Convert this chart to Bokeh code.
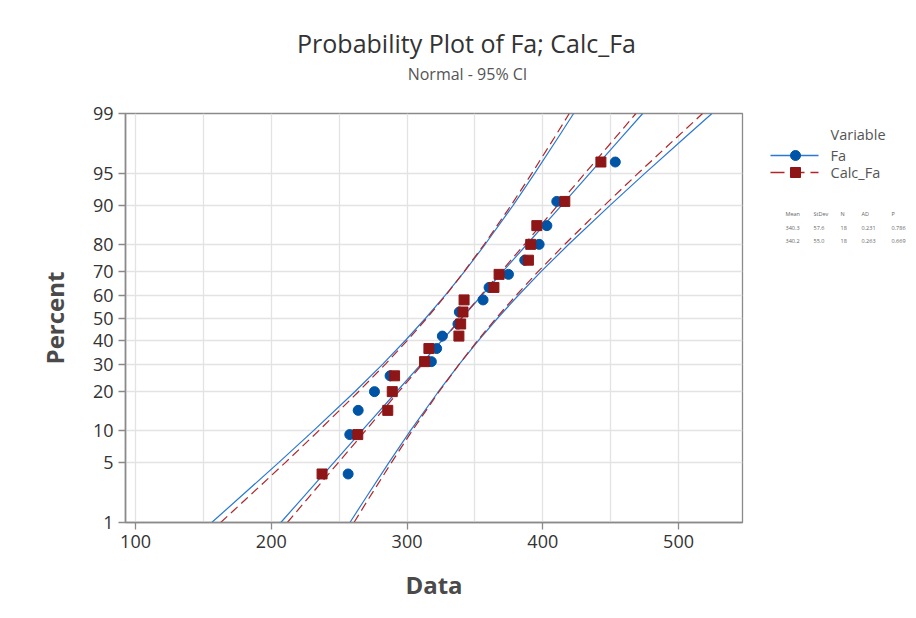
from statistics import NormalDist
from bokeh.plotting import figure
from bokeh.layouts import row, column
from bokeh.models import Range1d, FixedTicker
from bokeh.core.properties import value
from bokeh.embed import file_html
from bokeh.resources import INLINE

FONT = "Open Sans"

# ---------------- data ----------------
percent_ticks = [1, 5, 10, 20, 30, 40, 50, 60, 70, 80, 90, 95, 99]
x_ticks = [100, 200, 300, 400, 500]
x_minor = [150, 250, 350, 450]

point_pct = [3.80, 9.24, 14.67, 20.11, 25.54, 30.98, 36.41, 41.85, 47.28,
             52.72, 58.15, 63.59, 69.02, 74.46, 79.89, 85.33, 90.76, 96.20]
fa = [256.6, 257.8, 264.0, 276.0, 287.5, 317.9, 321.8, 326.0, 337.5,
      338.5, 356.0, 360.4, 374.7, 386.7, 397.3, 403.0, 410.3, 453.4]
calc_fa = [237.4, 263.7, 285.8, 289.1, 290.8, 312.9, 316.1, 338.2, 339.5,
           341.2, 342.0, 364.0, 367.8, 389.4, 391.1, 395.6, 416.2, 442.8]

curve_pct = [1, 2, 5, 10, 20, 30, 40, 50, 60, 70, 80, 90, 95, 98, 99]
fa_fit = [207.0, 222.6, 246.0, 266.8, 292.1, 310.3, 325.8, 340.3, 354.8,
          370.3, 388.5, 413.8, 434.6, 458.0, 473.6]
fa_ci_left = [156.1, 175.9, 205.4, 231.1, 261.3, 282.1, 298.9, 313.8, 327.9,
              342.1, 357.7, 378.1, 394.0, 411.3, 422.7]
fa_ci_right = [257.9, 269.3, 286.6, 302.5, 322.9, 338.5, 352.7, 366.8, 381.7,
               398.5, 419.3, 449.5, 475.2, 504.7, 524.6]
calc_fit = [211.8, 226.8, 249.4, 269.4, 293.7, 311.3, 326.2, 340.2, 354.2,
            369.1, 386.7, 411.0, 431.0, 453.6, 468.6]
calc_ci_left = [162.7, 181.8, 210.3, 235.0, 264.0, 284.1, 300.3, 314.7, 328.3,
                341.9, 357.0, 376.6, 391.9, 408.6, 419.5]
calc_ci_right = [260.9, 271.8, 288.5, 303.8, 323.4, 338.5, 352.1, 365.7, 380.1,
                 396.3, 416.4, 445.4, 470.1, 498.6, 517.7]

series_names = ["Fa", "Calc_Fa"]
table_header = ["Mean", "StDev", "N", "AD", "P"]
fa_stats = ["340.3", "57.6", "18", "0.231", "0.786"]
calc_stats = ["340.2", "55.0", "18", "0.263", "0.669"]

BLUE_PT = "#0054A6"
BLUE_LN = "#2B78D2"
RED_PT = "#8E1616"
RED_LN = "#B0262A"
GRID = "#E3E3E3"
AXIS = "#8A8A8A"

nd = NormalDist()


def z(p):
    return nd.inv_cdf(p / 100.0)


# layout geometry (page pixels)
FL, FR, FT, FB = 125, 742, 113, 522
TOP_H = 90
W, H = 916, 618
MAIN_W = 758

# ---------------- title strip ----------------
tfig = figure(width=MAIN_W, height=TOP_H, output_backend="svg", toolbar_location=None,
              x_range=Range1d(FL, FR), y_range=Range1d(TOP_H, 0),
              x_axis_type=None, y_axis_type=None,
              min_border_left=FL, min_border_right=MAIN_W - FR,
              min_border_top=0, min_border_bottom=0)
tfig.grid.visible = False
tfig.outline_line_color = None
tfig.text(x=[466], y=[42], text=["Probability Plot of Fa; Calc_Fa"],
          text_font=value(FONT), text_font_size="25px", text_color="#333333",
          text_align="center", text_baseline="middle")
tfig.text(x=[467], y=[73], text=["Normal - 95% CI"],
          text_font=value(FONT), text_font_size="16px", text_color="#555555",
          text_align="center", text_baseline="middle")

# ---------------- main plot ----------------
X0, X1 = 92.6, 547.1
p = figure(width=MAIN_W, height=H - TOP_H, output_backend="svg", toolbar_location=None,
           x_range=Range1d(X0, X1), y_range=Range1d(z(1), z(99)),
           min_border_left=FL, min_border_right=MAIN_W - FR,
           min_border_top=FT - TOP_H, min_border_bottom=H - FB)
p.background_fill_color = "white"
p.border_fill_color = "white"
p.outline_line_color = AXIS
p.outline_line_width = 1.3

yt = [z(v) for v in percent_ticks]
p.yaxis.ticker = FixedTicker(ticks=yt)
p.yaxis.major_label_overrides = {t: str(v) for t, v in zip(yt, percent_ticks)}
p.xaxis.ticker = FixedTicker(ticks=x_ticks, minor_ticks=x_minor)

for ax in (p.xaxis[0], p.yaxis[0]):
    ax.axis_line_color = AXIS
    ax.axis_line_width = 1.6
    ax.major_tick_line_color = AXIS
    ax.major_tick_line_width = 1.3
    ax.major_tick_out = 7
    ax.major_tick_in = 0
    ax.minor_tick_line_color = None
    ax.major_label_text_font = FONT
    ax.major_label_text_font_size = "18px"
    ax.major_label_text_color = "#333333"
    ax.major_label_standoff = 5
    ax.axis_label_text_font = FONT
    ax.axis_label_text_font_size = "24px"
    ax.axis_label_text_font_style = "bold"
    ax.axis_label_text_color = "#4A4A4A"

p.xaxis.axis_label = "Data"
p.yaxis.axis_label = "Percent"
p.xaxis.axis_label_standoff = 17
p.yaxis.axis_label_standoff = 19

p.xgrid.grid_line_color = GRID
p.xgrid.minor_grid_line_color = GRID
p.ygrid.grid_line_color = GRID
p.xgrid.grid_line_width = 1.3
p.xgrid.minor_grid_line_width = 1.3
p.ygrid.grid_line_width = 1.3

cz = [z(v) for v in curve_pct]
pz = [z(v) for v in point_pct]

for xs in (fa_ci_left, fa_fit, fa_ci_right):
    p.line(xs, cz, line_color=BLUE_LN, line_width=1.2)
for xs in (calc_ci_left, calc_fit, calc_ci_right):
    p.line(xs, cz, line_color=RED_LN, line_width=1.2, line_dash="9 5")

p.scatter(fa, pz, marker="circle", size=10, fill_color=BLUE_PT, line_color=BLUE_PT)
p.scatter(calc_fa, pz, marker="square", size=10, fill_color=RED_PT, line_color=RED_PT)

# ---------------- legend panel (page coordinates; frame aligned with main frame) -----
leg = figure(width=W - MAIN_W, height=H - TOP_H, output_backend="svg", toolbar_location=None,
             x_range=Range1d(MAIN_W, W), y_range=Range1d(FB, FT),
             x_axis_type=None, y_axis_type=None, min_border=0)
leg.grid.visible = False
leg.outline_line_color = None
leg.background_fill_color = "white"
leg.border_fill_color = "white"

leg.text(x=[830, 830, 830], y=[134, 155, 172],
         text=["Variable"] + series_names,
         text_font=value(FONT), text_font_size="14.5px", text_color="#555555",
         text_align="left", text_baseline="middle")
leg.line([770, 818], [155, 155], line_color=BLUE_LN, line_width=1.6)
leg.scatter([795], [155], marker="circle", size=10, fill_color=BLUE_PT, line_color=BLUE_PT)
leg.line([770, 818], [172, 172], line_color=RED_LN, line_width=1.6, line_dash="14 6")
leg.scatter([795], [172], marker="square", size=10, fill_color=RED_PT, line_color=RED_PT)

col_x = [785, 813, 840, 861, 891]
tx, ty, tt = [], [], []
for rowy, vals in ((213, table_header), (227, fa_stats), (240, calc_stats)):
    for cx, v in zip(col_x, vals):
        tx.append(cx)
        ty.append(rowy)
        tt.append(v)
leg.text(x=tx, y=ty, text=tt, text_font=value(FONT), text_font_size="5.5px",
         text_color="#666666", text_align="left", text_baseline="middle")

layout = column(tfig, row(p, leg))
open("out.html", "w").write(file_html(layout, INLINE))
